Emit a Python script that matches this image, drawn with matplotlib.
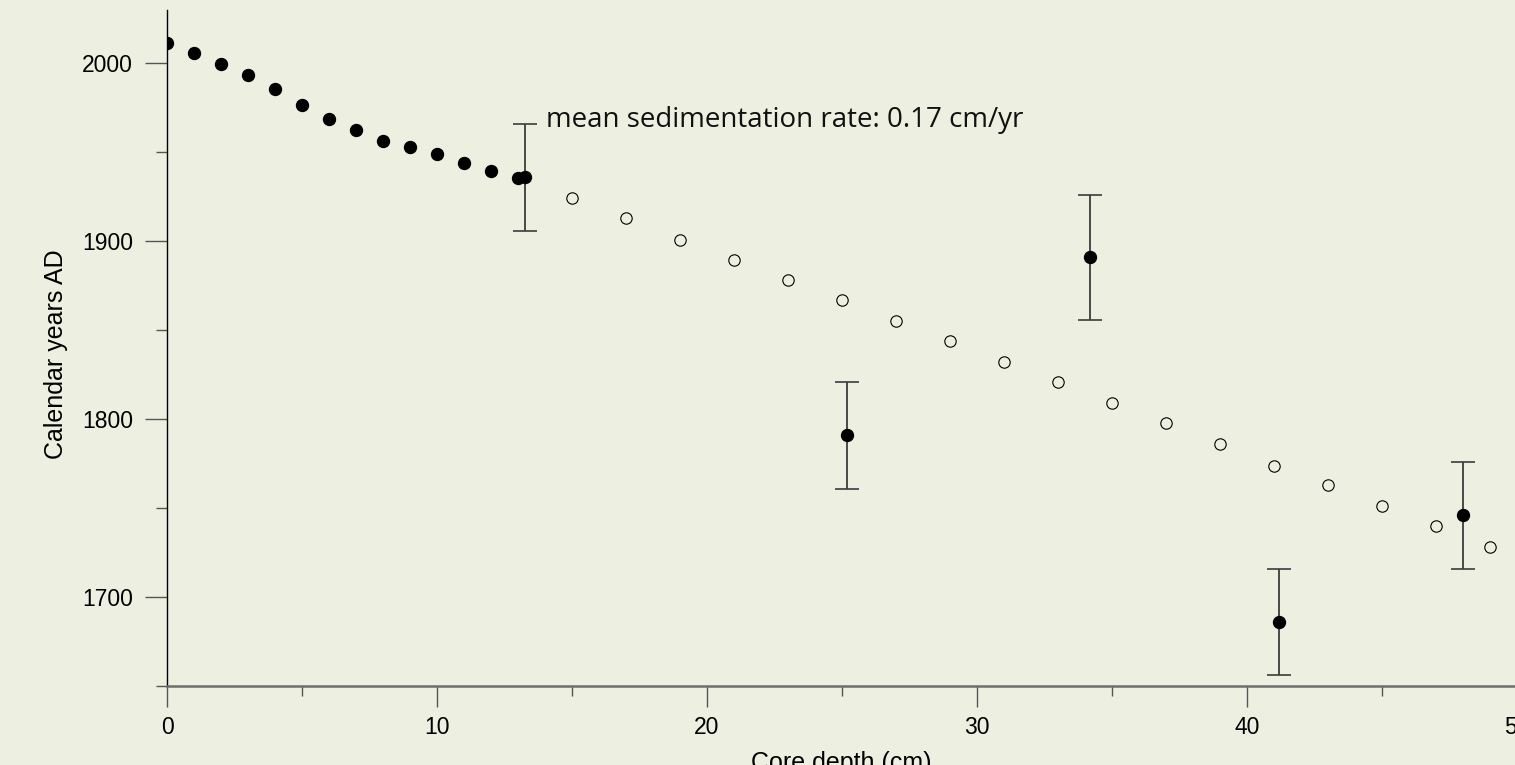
import matplotlib
matplotlib.use("Agg")
import matplotlib.pyplot as plt
from matplotlib.ticker import MultipleLocator
import numpy as np

# ---- data ----
depth_model = [0, 1, 2, 3, 4, 5, 6, 7, 8, 9, 10, 11, 12, 13.0]
age_model = [2011.7, 2005.7, 1999.7, 1993.7, 1985.6, 1976.8, 1968.8, 1962.6,
             1956.5, 1952.8, 1948.9, 1943.8, 1939.6, 1935.7]

depth_extrap = [15, 17, 19, 21, 23, 25, 27, 29, 31, 33, 35, 37, 39, 41, 43, 45, 47, 49]
age_extrap = [1924.1, 1912.8, 1900.6, 1889.7, 1878.1, 1866.8, 1855.2, 1843.8, 1832.1,
              1820.8, 1809.0, 1798.0, 1785.9, 1773.9, 1763.0, 1751.0, 1740.1, 1727.9]

depth_dated = [13.25, 25.2, 34.2, 41.2, 48.0]
age_dated = [1936, 1791, 1891, 1686, 1746]
err_dated = [30, 30, 35, 30, 30]

x_ticks = [0, 10, 20, 30, 40, 50]
y_ticks = [1700, 1800, 1900, 2000]
annot_text = "mean sedimentation rate: 0.17 cm/yr"

# ---- figure ----
BG = "#edf0e0"
W, H = 1515, 765
fig = plt.figure(figsize=(W / 100, H / 100), dpi=100, facecolor=BG)
ax = fig.add_axes([167 / W, 79 / H, 1350 / W, 676 / H], facecolor=BG)

ax.set_xlim(0, 50)
ax.set_ylim(1650, 2030)

ax.plot(depth_extrap, age_extrap, linestyle="none", marker="o", markersize=8.2,
        markerfacecolor="none", markeredgecolor="black", markeredgewidth=0.8, zorder=3)
ax.plot(depth_model, age_model, linestyle="none", marker="o", markersize=8.6,
        markerfacecolor="black", markeredgecolor="black", zorder=4)
ax.errorbar(depth_dated, age_dated, yerr=err_dated, fmt="o", color="black",
            markersize=8.6, ecolor="#3c3c3c", elinewidth=1.3, capsize=8.3,
            capthick=1.2, zorder=5)

ax.annotate(annot_text, xy=(depth_dated[0], age_dated[0] + err_dated[0]),
            xytext=(15, -2.2), textcoords="offset points", ha="left", va="baseline",
            fontsize=20, family="Open Sans", color="#111111")

# spines
for s in ("top", "right"):
    ax.spines[s].set_visible(False)
ax.spines["left"].set_color("black")
ax.spines["left"].set_linewidth(1.0)
ax.spines["bottom"].set_color("#6e6e6e")
ax.spines["bottom"].set_linewidth(1.8)

ax.set_xticks(x_ticks)
ax.set_yticks(y_ticks)
ax.xaxis.set_minor_locator(MultipleLocator(5))
ax.yaxis.set_minor_locator(MultipleLocator(50))

ax.tick_params(axis="x", which="major", direction="out", length=15, width=1.0,
               color="#555555", pad=6.5, labelsize=16.5, labelcolor="black")
ax.tick_params(axis="x", which="minor", direction="out", length=7.5, width=1.0,
               color="#555555")
ax.tick_params(axis="y", which="major", direction="out", length=15.5, width=1.0,
               color="#555555", pad=9, labelsize=16.5, labelcolor="black")
ax.tick_params(axis="y", which="minor", direction="out", length=8, width=1.0,
               color="#555555")
for lab in ax.get_xticklabels() + ax.get_yticklabels():
    lab.set_family("Liberation Sans")

fig.text(56 / W, 1 - 354 / H, "Calendar years AD", rotation=90, ha="center",
         va="center", fontsize=18, family="Liberation Sans")
fig.text(841 / W, 1 - 751 / H, "Core depth (cm)", ha="center", va="top",
         fontsize=18, family="Liberation Sans")

fig.savefig("out.png", dpi=100, facecolor=BG)
